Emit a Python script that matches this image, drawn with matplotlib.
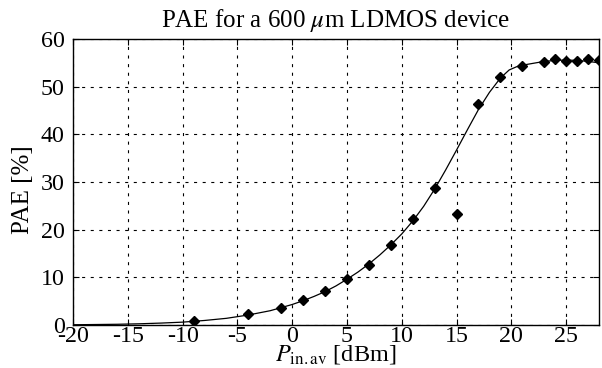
import matplotlib
matplotlib.use("Agg")
import matplotlib.pyplot as plt

# measured PAE points (diamonds)
pin_meas = [-9, -4, -1, 1, 3, 5, 7, 9, 11, 13, 15, 17, 19, 21, 23, 24, 25, 26, 27, 28]
pae_meas = [0.85, 2.25, 3.65, 5.25, 7.05, 9.6, 12.6, 16.7, 22.2, 28.7, 23.2,
            46.4, 52.1, 54.3, 55.1, 55.7, 55.4, 55.4, 55.7, 55.6]

# model curve (solid line)
pin_model = [-20, -18, -16, -14, -12, -10, -8, -6, -4, -2, 0, 1, 2, 3, 4, 5, 6, 7,
             8, 9, 10, 11, 12, 13, 14, 15, 16, 17, 18, 19, 19.8, 20.5, 21, 22, 23,
             24, 25, 26, 27, 28]
pae_model = [0.05, 0.1, 0.15, 0.25, 0.4, 0.6, 0.95, 1.4, 2.1, 3.0, 4.3, 5.1, 6.0,
             7.0, 8.2, 9.6, 11.1, 12.8, 14.7, 16.8, 19.1, 21.8, 24.9, 28.5, 32.5,
             36.7, 41.0, 45.2, 48.8, 51.8, 53.5, 54.2, 54.5, 54.9, 55.3, 55.5,
             55.6, 55.5, 55.3, 55.0]

xticks = [-20, -15, -10, -5, 0, 5, 10, 15, 20, 25]
yticks = [0, 10, 20, 30, 40, 50, 60]

plt.rcParams["font.family"] = ["Liberation Serif", "DejaVu Serif"]
plt.rcParams["mathtext.fontset"] = "stix"
plt.rcParams["axes.unicode_minus"] = False
plt.rcParams["lines.scale_dashes"] = False

fig = plt.figure(figsize=(6.02, 3.68), dpi=100)
ax = fig.add_axes([73 / 602, 43 / 368, 526 / 602, 286 / 368])

ax.plot(pin_model, pae_model, color="black", linewidth=0.9, zorder=3)
ax.plot(pin_meas, pae_meas, linestyle="none", marker="D", markersize=5.3,
        color="black", zorder=4)

ax.set_xlim(-20, 28)
ax.set_ylim(0, 60)
ax.set_xticks(xticks)
ax.set_yticks(yticks)

ax.grid(True, color="black", linewidth=0.8, linestyle=(0, (2.2, 4.0)))
ax.tick_params(direction="in", length=4, width=0.8, top=True, right=True,
               labelsize=17.3, colors="black")
ax.tick_params(axis="x", pad=1)
ax.tick_params(axis="y", pad=6)
for s in ax.spines.values():
    s.set_linewidth(1.0)

ax.set_title(r"PAE for a 600 $\mu$m LDMOS device", fontsize=18, pad=8.5)
ax.set_xlabel(r"$P_{\mathrm{in.av}}$ [dBm]", fontsize=17.5, labelpad=-3.5)
ax.set_ylabel("PAE [%]", fontsize=18)
ax.yaxis.set_label_coords(-0.075, 0.472)

fig.savefig("out.png", dpi=100)
